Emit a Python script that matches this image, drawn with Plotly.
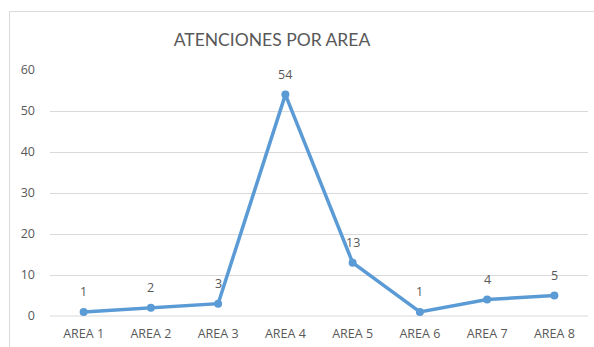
import plotly.graph_objects as go

# Atenciones registradas por área
areas = ["AREA 1", "AREA 2", "AREA 3", "AREA 4", "AREA 5", "AREA 6", "AREA 7", "AREA 8"]
atenciones = [1, 2, 3, 54, 13, 1, 4, 5]
y_ticks = [0, 10, 20, 30, 40, 50, 60]

W, H = 594, 347
ML, MR, MT, MB = 50, 6, 70, 31

FONT = "'Open Sans', Lato, sans-serif"
TITLE_FONT = "Lato, 'Open Sans', sans-serif"
TXT = "#595959"
BLUE = "#5B9BD5"

fig = go.Figure()
fig.add_trace(go.Scatter(
    x=list(range(len(areas))),
    y=atenciones,
    mode="lines+markers",
    line=dict(color=BLUE, width=3.5),
    marker=dict(color=BLUE, size=8),
    cliponaxis=False,
    hoverinfo="skip",
))

# value labels above each point
for i, v in enumerate(atenciones):
    fig.add_annotation(
        x=i, y=v, text=str(v), showarrow=False,
        yanchor="bottom", yshift=10,
        font=dict(family=FONT, size=12.5, color=TXT),
    )

fig.update_layout(
    width=W, height=H,
    margin=dict(l=ML, r=MR, t=MT, b=MB),
    paper_bgcolor="white",
    plot_bgcolor="white",
    showlegend=False,
    title=dict(
        text="ATENCIONES POR AREA",
        x=272 / W, xanchor="center", xref="container",
        y=1 - 40 / H, yanchor="middle",
        font=dict(family=TITLE_FONT, size=17.5, color=TXT),
    ),
    xaxis=dict(
        range=[-0.5, len(areas) - 0.5],
        tickmode="array",
        tickvals=list(range(len(areas))),
        ticktext=areas,
        showgrid=False,
        zeroline=False,
        showline=False,
        ticks="",
        ticklabelstandoff=8,
        tickfont=dict(family=FONT, size=12.5, color=TXT),
        fixedrange=True,
    ),
    yaxis=dict(
        range=[0, 60],
        tickmode="array",
        tickvals=y_ticks,
        showgrid=True,
        gridcolor="#D9D9D9",
        gridwidth=1,
        zeroline=False,
        showline=False,
        ticks="",
        ticklabelstandoff=14,
        tickfont=dict(family=FONT, size=12.5, color=TXT),
        fixedrange=True,
    ),
    shapes=[
        dict(type="rect", xref="paper", yref="paper",
             x0=-(ML - 9.5) / (W - ML - MR), x1=1.05,
             y0=-0.3, y1=1 + (MT - 11.5) / (H - MT - MB),
             line=dict(color="#D9D9D9", width=1), layer="below"),
        dict(type="line", xref="paper", yref="paper",
             x0=0, x1=1, y0=0, y1=0,
             line=dict(color="#D9D9D9", width=1), layer="below"),
    ],
)

fig.write_html("out.html")
